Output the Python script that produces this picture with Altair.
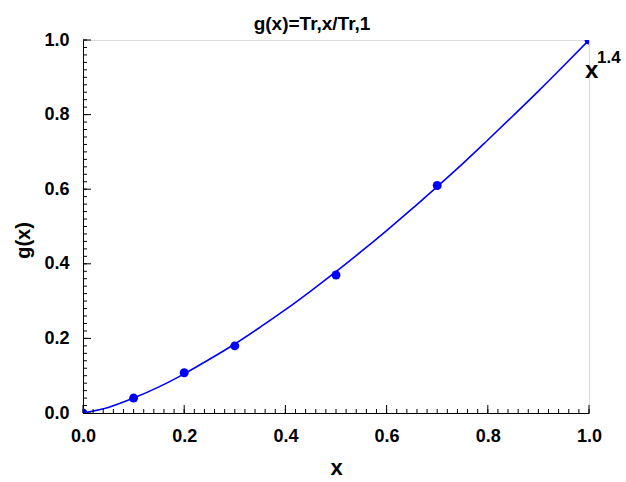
import altair as alt
import pandas as pd

# measured points
pt_x = [0.0, 0.1, 0.2, 0.3, 0.5, 0.7, 1.0]
pt_y = [0.0, 0.04, 0.108, 0.18, 0.37, 0.61, 1.0]

# curve
curve_x = [0.0, 0.05, 0.1, 0.15, 0.2, 0.25, 0.3, 0.35, 0.4, 0.45, 0.5,
           0.55, 0.6, 0.65, 0.7, 0.75, 0.8, 0.85, 0.9, 0.95, 1.0]
curve_y = [0.0, 0.015, 0.04, 0.07, 0.105, 0.144, 0.185, 0.23, 0.277, 0.327, 0.379,
           0.433, 0.489, 0.547, 0.607, 0.668, 0.732, 0.797, 0.863, 0.931, 1.0]

major_ticks = [0.0, 0.2, 0.4, 0.6, 0.8, 1.0]
minor_ticks = [round(i * 0.02, 2) for i in range(51)]

ann_label = ["x", "1.4"]
ann_x = [1.0, 1.0]
ann_y = [0.898, 0.938]

W, H = 506, 373
FONT = "Liberation Sans"
BLUE = "#0000ff"

pts = pd.DataFrame({"x": pt_x, "y": pt_y})
curve = pd.DataFrame({"x": curve_x, "y": curve_y})
xmin = pd.DataFrame({"x": minor_ticks})
xmaj = pd.DataFrame({"x": major_ticks})
ymin = pd.DataFrame({"y": minor_ticks})
ymaj = pd.DataFrame({"y": major_ticks})

xs = alt.Scale(domain=[0, 1], nice=False, zero=False)
ys = alt.Scale(domain=[0, 1], nice=False, zero=False)

x_axis = alt.Axis(values=major_ticks, format=".1f", ticks=False, grid=False,
                  domainColor="black", domainWidth=1, labelFlush=False,
                  labelFont=FONT, labelFontSize=18, labelFontWeight="bold",
                  labelColor="black", labelPadding=14,
                  title="x", titleFont=FONT, titleFontSize=22,
                  titleFontWeight="bold", titleColor="black", titlePadding=12)
y_axis = alt.Axis(values=major_ticks, format=".1f", ticks=False, grid=False,
                  domainColor="black", domainWidth=1, labelFlush=False,
                  labelFont=FONT, labelFontSize=18, labelFontWeight="bold",
                  labelColor="black", labelPadding=14,
                  title="g(x)", titleFont=FONT, titleFontSize=20,
                  titleFontWeight="bold", titleColor="black", titlePadding=10,
                  titleY=200)

line = alt.Chart(curve).mark_line(color=BLUE, strokeWidth=1.6, clip=True,
                                  interpolate="monotone").encode(
    x=alt.X("x:Q", scale=xs, axis=x_axis),
    y=alt.Y("y:Q", scale=ys, axis=y_axis),
)

points = alt.Chart(pts).mark_circle(color=BLUE, size=80, opacity=1, clip=True).encode(
    x=alt.X("x:Q", scale=xs),
    y=alt.Y("y:Q", scale=ys),
)

xt_min = alt.Chart(xmin).mark_rule(color="black", strokeWidth=1).encode(
    x=alt.X("x:Q", scale=xs), y=alt.value(H), y2=alt.value(H - 4))
xt_maj = alt.Chart(xmaj).mark_rule(color="black", strokeWidth=1).encode(
    x=alt.X("x:Q", scale=xs), y=alt.value(H), y2=alt.value(H - 8))
yt_min = alt.Chart(ymin).mark_rule(color="black", strokeWidth=1).encode(
    y=alt.Y("y:Q", scale=ys), x=alt.value(0), x2=alt.value(4))
yt_maj = alt.Chart(ymaj).mark_rule(color="black", strokeWidth=1).encode(
    y=alt.Y("y:Q", scale=ys), x=alt.value(0), x2=alt.value(8))

ann = pd.DataFrame({"x": ann_x, "y": ann_y, "t": ann_label})
ann_x_txt = alt.Chart(ann[ann.t == "x"]).mark_text(
    font=FONT, fontSize=24, fontWeight="bold", color="black",
    align="left", baseline="alphabetic", dx=-4).encode(
    x=alt.X("x:Q", scale=xs), y=alt.Y("y:Q", scale=ys), text="t:N")
ann_p_txt = alt.Chart(ann[ann.t == "1.4"]).mark_text(
    font=FONT, fontSize=17, fontWeight="bold", color="black",
    align="left", baseline="alphabetic", dx=8).encode(
    x=alt.X("x:Q", scale=xs), y=alt.Y("y:Q", scale=ys), text="t:N")

chart = alt.layer(
    line, xt_min, xt_maj, yt_min, yt_maj, points, ann_x_txt, ann_p_txt
).properties(
    width=W, height=H,
    title=alt.Title("g(x)=Tr,x/Tr,1", font=FONT, fontSize=19, fontWeight="bold",
                    color="black", anchor="middle", dx=-24, dy=6, offset=3),
    autosize=alt.AutoSizeParams(type="none"),
    padding={"left": 83, "top": 40, "right": 37, "bottom": 69},
).configure_view(stroke=None).configure(background="white")

chart.save("out.html", embed_options={"renderer": "svg", "actions": False})
